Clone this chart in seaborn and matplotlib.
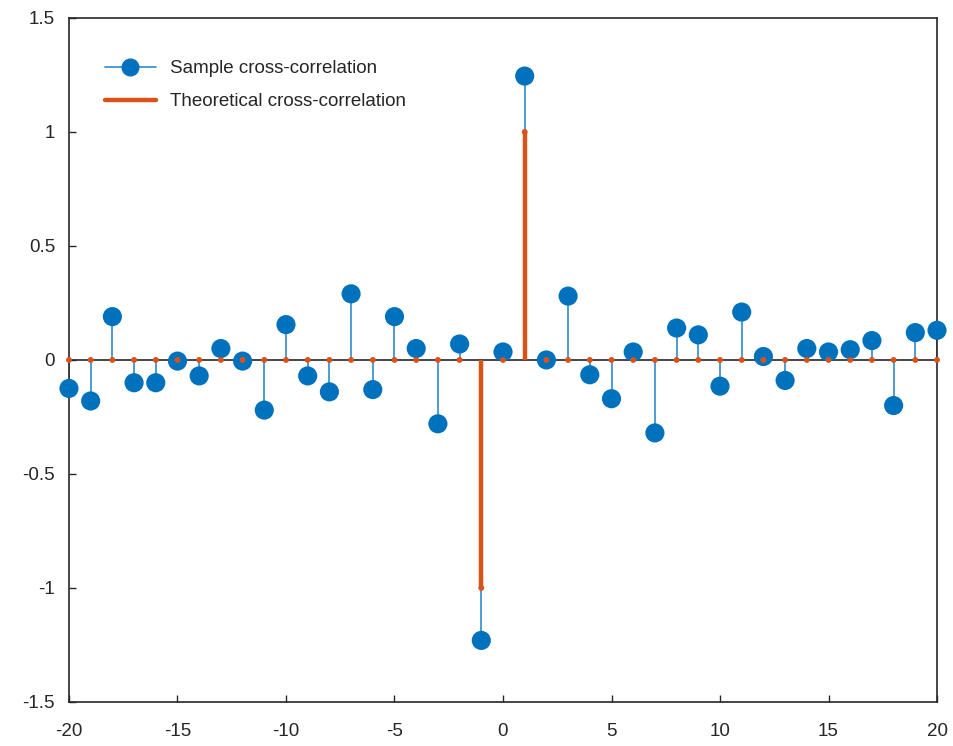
import numpy as np
import pandas as pd
import seaborn as sns
import matplotlib
matplotlib.use("Agg")
import matplotlib.pyplot as plt
from matplotlib.lines import Line2D

# lags e valores
lags = list(range(-20, 21))
sample_xc = [-0.125, -0.18, 0.19, -0.10, -0.10, -0.005, -0.07, 0.05, -0.005, -0.22,
             0.155, -0.07, -0.14, 0.29, -0.13, 0.19, 0.05, -0.28, 0.07, -1.23,
             0.035, 1.245, 0.0, 0.28, -0.065, -0.17, 0.035, -0.32, 0.14, 0.11,
             -0.115, 0.21, 0.015, -0.09, 0.05, 0.035, 0.045, 0.085, -0.20, 0.12, 0.13]
theory_xc = [0.0] * 19 + [-1.0, 0.0, 1.0] + [0.0] * 19
ytick_vals = [-1.5, -1, -0.5, 0, 0.5, 1, 1.5]
ytick_labels = ["-1.5", "-1", "-0.5", "0", "0.5", "1", "1.5"]

tabela = pd.DataFrame({"lag": lags, "sample": sample_xc, "theory": theory_xc})

sns.set_style("white")
plt.rcParams["font.family"] = ["Liberation Sans", "DejaVu Sans"]
plt.rcParams["axes.unicode_minus"] = False

blue = "#0072BD"
blue_stem = "#3E94D1"
orange = "#D95319"

fig = plt.figure(figsize=(9.54, 7.46), dpi=100)
ax = fig.add_axes([0.0723, 0.059, 0.9099, 0.917])

# linha de base
ax.axhline(0, color="#262626", lw=1.2, zorder=1)

# hastes amostrais
ax.vlines(tabela["lag"], 0, tabela["sample"], color=blue_stem, lw=1.3, zorder=2)
sns.scatterplot(data=tabela, x="lag", y="sample", color=blue, s=190,
                edgecolor="none", zorder=4, ax=ax, legend=False, clip_on=False)

# hastes teóricas
ax.vlines(tabela["lag"], 0, tabela["theory"], color=orange, lw=3.2, zorder=3)
sns.scatterplot(data=tabela, x="lag", y="theory", color=orange, s=18,
                edgecolor="none", zorder=5, ax=ax, legend=False, clip_on=False)

ax.set_xlim(-20, 20)
ax.set_ylim(-1.5, 1.5)
ax.set_xticks(range(-20, 21, 5))
ax.set_xticklabels([str(v) for v in range(-20, 21, 5)])
ax.set_yticks(ytick_vals)
ax.set_yticklabels(ytick_labels)
ax.set_xlabel("")
ax.set_ylabel("")
ax.tick_params(direction="in", length=5, width=1, labelsize=13.5, colors="#262626",
               top=False, right=False, bottom=True, left=True)
ax.tick_params(axis="x", pad=15)
ax.tick_params(axis="y", pad=10)
for s in ax.spines.values():
    s.set_color("#262626")
    s.set_linewidth(1.2)

handles = [
    Line2D([0], [0], color=blue_stem, lw=1.3, marker="o", markersize=12,
           markerfacecolor=blue, markeredgecolor=blue, markevery=[1]),
    Line2D([0], [0], color=orange, lw=3.2),
]
leg = ax.legend(handles, ["Sample cross-correlation", "Theoretical cross-correlation"],
                loc="upper left", bbox_to_anchor=(0.022, 0.963), frameon=False,
                fontsize=13.5, handlelength=2.7, handletextpad=0.75, labelspacing=0.85)

fig.savefig("out.png", dpi=100)
